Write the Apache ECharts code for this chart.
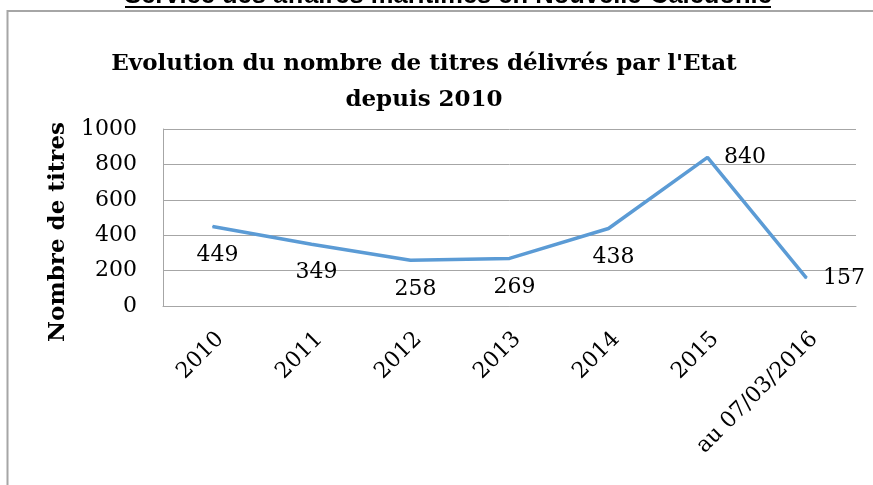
<!DOCTYPE html>
<html>
<head>
<meta charset="utf-8">
<script src="https://cdn.jsdelivr.net/npm/echarts@6/dist/echarts.min.js"></script>
<style>
  html, body { margin: 0; padding: 0; background: #fff; }
  #chart { width: 873px; height: 485px; }
</style>
</head>
<body>
<div id="chart"></div>
<script>
// chart data
const categories = ['2010', '2011', '2012', '2013', '2014', '2015', 'au 07/03/2016']
const titres = [449, 349, 258, 269, 438, 840, 157]
const yTicks = [0, 200, 400, 600, 800, 1000]

const serif = 'DejaVu Serif'

let chart = echarts.init(document.getElementById('chart'))

// Excel put the last two labels to the right, the others under the line
const seriesData = titres.map((v, i) => ({
  value: v,
  label: i >= 5
    ? { position: 'right', distance: 16 }
    : { position: 'bottom', distance: 17, offset: [5, 0] }
}))

chart.setOption({
  animation: false,
  title: {
    text: 'Evolution du nombre de titres délivrés par l\'Etat\ndepuis 2010',
    left: 419,
    top: 41,
    textAlign: 'center',
    textStyle: {
      fontFamily: serif,
      fontWeight: 'bold',
      fontSize: 23,
      lineHeight: 36,
      color: '#000'
    }
  },
  grid: {
    left: 163,
    top: 129,
    right: 17,
    bottom: 179
  },
  xAxis: {
    type: 'category',
    data: categories,
    boundaryGap: true,
    axisLine: { lineStyle: { color: '#a6a6a6', width: 1 } },
    axisTick: { show: false },
    axisLabel: {
      interval: 0,
      rotate: 45,
      align: 'right',
      verticalAlign: 'top',
      margin: 22,
      fontFamily: serif,
      fontSize: 22,
      color: '#000'
    }
  },
  yAxis: {
    type: 'value',
    min: yTicks[0],
    max: yTicks[yTicks.length - 1],
    interval: 200,
    axisLine: { show: true, lineStyle: { color: '#a6a6a6', width: 1 } },
    axisTick: { show: false },
    splitLine: { lineStyle: { color: '#a6a6a6', width: 1 } },
    axisLabel: {
      margin: 26,
      fontFamily: serif,
      fontSize: 22,
      color: '#000',
      formatter: v => String(v)
    }
  },
  series: [
    {
      type: 'line',
      data: seriesData,
      symbol: 'circle',
      symbolSize: 1,
      lineStyle: { color: '#5b9bd5', width: 3.5 },
      itemStyle: { color: '#5b9bd5' },
      label: {
        show: true,
        fontFamily: serif,
        fontSize: 22,
        color: '#000'
      }
    }
  ],
  graphic: [
    {
      type: 'rect',
      shape: { x: 7.5, y: 11, width: 900, height: 500 },
      style: { fill: null, stroke: '#a6a6a6', lineWidth: 2 },
      silent: true
    },
    {
      type: 'text',
      x: 448,
      y: 8.5,
      style: {
        text: 'Service des affaires maritimes en Nouvelle-Calédonie',
        fontFamily: 'Liberation Sans',
        fontWeight: 'bold',
        fontSize: 25.5,
        align: 'center',
        verticalAlign: 'bottom',
        fill: '#000'
      }
    },
    {
      type: 'line',
      shape: { x1: 125, y1: 7, x2: 771, y2: 7 },
      style: { stroke: '#000', lineWidth: 2 }
    },
    {
      type: 'text',
      x: 58,
      y: 232,
      rotation: Math.PI / 2,
      style: {
        text: 'Nombre de titres',
        fontFamily: serif,
        fontWeight: 'bold',
        fontSize: 23,
        align: 'center',
        verticalAlign: 'middle',
        fill: '#000'
      }
    }
  ]
})
</script>
</body>
</html>
